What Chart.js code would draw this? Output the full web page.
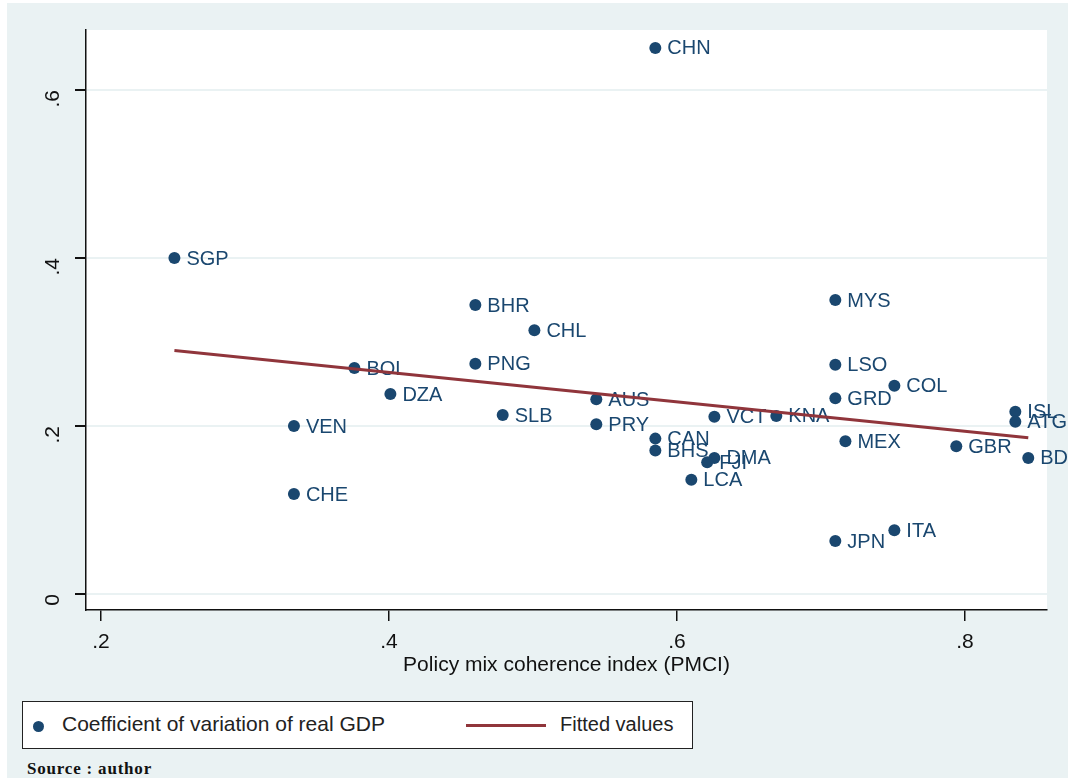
<!DOCTYPE html>
<html>
<head>
<meta charset="utf-8">
<script src="https://cdn.jsdelivr.net/npm/chart.js@4/dist/chart.umd.min.js"></script>
<style>
  body { margin: 0; background: #fff; width: 1068px; height: 778px; overflow: hidden; position: relative; }
  #bg { position: absolute; left: 7px; top: 3px; width: 1061px; height: 775px; background: #eaf2f3; }
  #wrap { position: absolute; left: 7px; top: 3px; width: 1061px; height: 677px; }
  #legend { position: absolute; left: 22px; top: 701px; width: 669px; height: 46px; background: #fff;
            border: 1.5px solid #222; font-family: "Liberation Sans", Arial, sans-serif; font-size: 21px; color: #222; }
  #legend .dot { position: absolute; left: 10px; top: 19px; width: 11px; height: 11px; border-radius: 50%; background: #1a476f; }
  #legend .t1 { position: absolute; left: 39px; top: 10px; }
  #legend .ln { position: absolute; left: 443px; top: 22px; width: 80px; height: 3px; background: #90353b; }
  #legend .t2 { position: absolute; left: 537px; top: 11px; font-size: 20px; }
  #source { position: absolute; left: 27px; top: 759px; font-family: "Liberation Serif", "Times New Roman", serif;
            font-weight: bold; font-size: 17px; letter-spacing: 0.8px; color: #111; }
</style>
</head>
<body>
<div id="bg"></div>
<div id="wrap"><canvas id="chart"></canvas></div>
<div id="legend">
  <div class="dot"></div><div class="t1">Coefficient of variation of real GDP</div>
  <div class="ln"></div><div class="t2">Fitted values</div>
</div>
<div id="source">Source : author</div>
<script>
// country codes, policy mix coherence index, coefficient of variation of real GDP
var countries = ["CHN", "SGP", "BHR", "CHL", "MYS", "PNG", "BOL", "LSO", "COL", "DZA",
                 "GRD", "AUS", "SLB", "ISL", "VCT", "KNA", "ATG", "VEN", "PRY", "CAN",
                 "MEX", "BHS", "GBR", "DMA", "FJI", "BDI", "LCA", "CHE", "ITA", "JPN"];
var pmci = [0.585, 0.251, 0.460, 0.501, 0.710, 0.460, 0.376, 0.710, 0.751, 0.401,
            0.710, 0.544, 0.479, 0.835, 0.626, 0.669, 0.835, 0.334, 0.544, 0.585,
            0.717, 0.585, 0.794, 0.626, 0.621, 0.844, 0.610, 0.334, 0.751, 0.710];
var cvGdp = [0.650, 0.400, 0.344, 0.314, 0.350, 0.274, 0.269, 0.273, 0.248, 0.238,
             0.233, 0.232, 0.213, 0.217, 0.211, 0.212, 0.205, 0.200, 0.202, 0.185,
             0.182, 0.171, 0.176, 0.162, 0.157, 0.162, 0.136, 0.119, 0.076, 0.063];
// fitted values line (endpoints)
var fitX = [0.251, 0.844];
var fitY = [0.290, 0.186];
var xTickVals = [0.2, 0.4, 0.6, 0.8];
var yTickVals = [0, 0.2, 0.4, 0.6];

var navy = '#1a476f';
var maroon = '#90353b';

function fmt(v) {
  if (v === 0) return '0';
  return String(Math.round(v * 10) / 10).replace(/^0\./, '.');
}

var bgPlugin = {
  id: 'plotbg',
  beforeDraw: function(chart) {
    var a = chart.chartArea, c = chart.ctx;
    c.save();
    c.fillStyle = '#ffffff';
    c.fillRect(a.left, a.top, a.right - a.left, a.bottom - a.top);
    c.restore();
  }
};

// marker labels, drawn right after the scatter so the fitted line sits on top
var labelPlugin = {
  id: 'pointlabels',
  afterDatasetDraw: function(chart, args) {
    if (args.index !== 1) return;
    var c = chart.ctx;
    var meta = chart.getDatasetMeta(1);
    c.save();
    c.fillStyle = navy;
    c.font = '20px "Liberation Sans", Arial, sans-serif';
    c.textBaseline = 'middle';
    meta.data.forEach(function(p, i) {
      c.fillText(countries[i], p.x + 12, p.y + 1);
    });
    c.restore();
  }
};

new Chart(document.getElementById('chart'), {
  type: 'scatter',
  data: {
    datasets: [{
        label: 'Fitted values',
        type: 'line',
        data: fitX.map(function(x, i) { return {x: x, y: fitY[i]}; }),
        borderColor: maroon,
        borderWidth: 3,
        pointRadius: 0,
        fill: false
      },
      {
        label: 'Coefficient of variation of real GDP',
        data: pmci.map(function(x, i) { return {x: x, y: cvGdp[i]}; }),
        backgroundColor: navy,
        borderColor: navy,
        pointRadius: 6,
        pointBorderWidth: 0
      }
    ]
  },
  options: {
    responsive: true,
    maintainAspectRatio: false,
    animation: false,
    layout: { padding: { left: 0, right: 21, top: 27, bottom: 0 } },
    plugins: {
      legend: { display: false },
      tooltip: { enabled: false }
    },
    scales: {
      x: {
        type: 'linear',
        min: 0.1896,
        max: 0.857,
        afterBuildTicks: function(s) { s.ticks = xTickVals.map(function(v) { return {value: v}; }); },
        afterFit: function(s) { s.height = 70; s.paddingLeft = 0; s.paddingRight = 0; },
        border: { color: '#111', width: 1.5 },
        grid: { drawOnChartArea: false, drawTicks: true, tickLength: 11, tickColor: '#111', lineWidth: 1.5 },
        ticks: {
          color: '#111',
          padding: 9,
          maxRotation: 0,
          font: { size: 21, family: '"Liberation Sans", Arial, sans-serif' },
          callback: function(v) { return fmt(v); }
        },
        title: {
          display: true,
          text: 'Policy mix coherence index (PMCI)',
          color: '#111',
          padding: { top: 0, bottom: 2 },
          font: { size: 21, family: '"Liberation Sans", Arial, sans-serif' }
        }
      },
      y: {
        type: 'linear',
        min: -0.0190,
        max: 0.6714,
        afterBuildTicks: function(s) { s.ticks = yTickVals.map(function(v) { return {value: v}; }); },
        afterFit: function(s) { s.width = 79; s.paddingTop = 0; s.paddingBottom = 0; },
        border: { color: '#111', width: 1.5 },
        grid: { color: '#eaf2f3', lineWidth: 2, drawTicks: true, tickLength: 11, tickColor: '#111' },
        ticks: {
          color: '#111',
          padding: 22,
          minRotation: 90,
          maxRotation: 90,
          font: { size: 21, family: '"Liberation Sans", Arial, sans-serif' },
          callback: function(v) { return fmt(v); }
        }
      }
    }
  },
  plugins: [bgPlugin, labelPlugin]
});
</script>
</body>
</html>
